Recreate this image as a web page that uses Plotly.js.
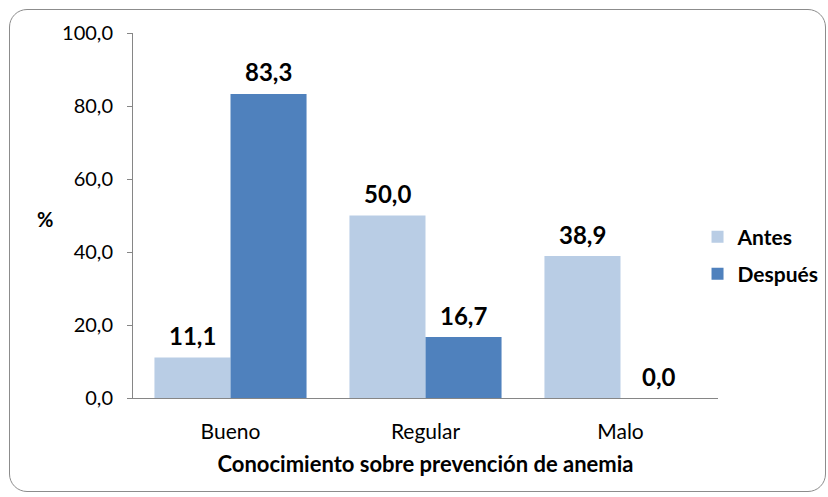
<!DOCTYPE html>
<html><head><meta charset="utf-8">
<script src="https://cdn.plot.ly/plotly-3.0.1.min.js"></script>
<style>
html,body{margin:0;padding:0;background:#fff;}
#wrap{position:relative;width:828px;height:497px;}
#chart{width:828px;height:497px;}
#frame{position:absolute;left:9px;top:9px;width:817px;height:483px;border:1.5px solid #8c8c8c;border-radius:18px;pointer-events:none;box-sizing:border-box;}
</style></head>
<body>
<div id="wrap"><div id="chart"></div><div id="frame"></div></div>
<script>
var categories = ["Bueno", "Regular", "Malo"];
var antes = [11.1, 50.0, 38.9];
var despues = [83.3, 16.7, 0.0];
var seriesNames = ["Antes", "Después"];
var yTicks = [0, 20, 40, 60, 80, 100];

var font = "Lato, 'Open Sans', sans-serif";
var labelFont = {family: font, size: 24, color: "#000", weight: "bold"};
var legendFont = {family: font, size: 21, color: "#000", weight: "bold"};

var traces = [
  {type: "bar", name: seriesNames[0], x: categories, y: antes, legend: "legend",
   marker: {color: "#B9CDE5"}, hoverinfo: "skip"},
  {type: "bar", name: seriesNames[1], x: categories, y: despues, legend: "legend2",
   marker: {color: "#4F81BD"}, hoverinfo: "skip"}
];

var barHalf = 38;
var annotations = [];
[antes, despues].forEach(function (series, s) {
  series.forEach(function (v, i) {
    annotations.push({x: categories[i], y: v, xref: "x", yref: "y",
      text: "<b>" + v.toFixed(1).replace(".", ",") + "</b>",
      showarrow: false, xanchor: "center", yanchor: "middle",
      xshift: s === 0 ? -barHalf : barHalf, yshift: 22, font: labelFont});
  });
});
annotations.push({text: "<b>%</b>", xref: "paper", yref: "paper", x: -0.15, y: 0.49,
                 xanchor: "center", yanchor: "middle", showarrow: false,
                 font: {family: font, size: 20, color: "#000"}});

var layout = {
  width: 828, height: 497,
  margin: {l: 133, r: 110, t: 33, b: 99, autoexpand: false},
  separators: ",.",
  barmode: "group", bargap: 0.22, bargroupgap: 0,
  paper_bgcolor: "#fff", plot_bgcolor: "#fff",
  font: {family: font, size: 16, color: "#000"},
  showlegend: true,
  legend: {x: 0.965, xanchor: "left", y: (398 - 237) / 365, yanchor: "middle",
           font: legendFont, itemwidth: 30, bgcolor: "rgba(0,0,0,0)"},
  legend2: {x: 0.965, xanchor: "left", y: (398 - 274) / 365, yanchor: "middle",
           font: legendFont, itemwidth: 30, bgcolor: "rgba(0,0,0,0)"},
  xaxis: {type: "category", showline: true, linecolor: "#868686", linewidth: 1,
          ticks: "", tickfont: {family: font, size: 21, color: "#000"},
          ticklabelstandoff: 15,
          showgrid: false, zeroline: false,
          title: {text: "<b>Conocimiento sobre prevención de anemia</b>",
                  font: {family: font, size: 22, color: "#000"}, standoff: 14}},
  yaxis: {range: [0, 100], tickvals: yTicks, tickformat: ".1f",
          showline: true, linecolor: "#868686", linewidth: 1,
          ticks: "outside", ticklen: 5, tickcolor: "#868686",
          showgrid: false, zeroline: false, ticklabelstandoff: 10,
          tickfont: {family: font, size: 20, color: "#000"}},
  annotations: annotations
};

Plotly.newPlot("chart", traces, layout, {staticPlot: true, displayModeBar: false});
</script>
</body></html>
